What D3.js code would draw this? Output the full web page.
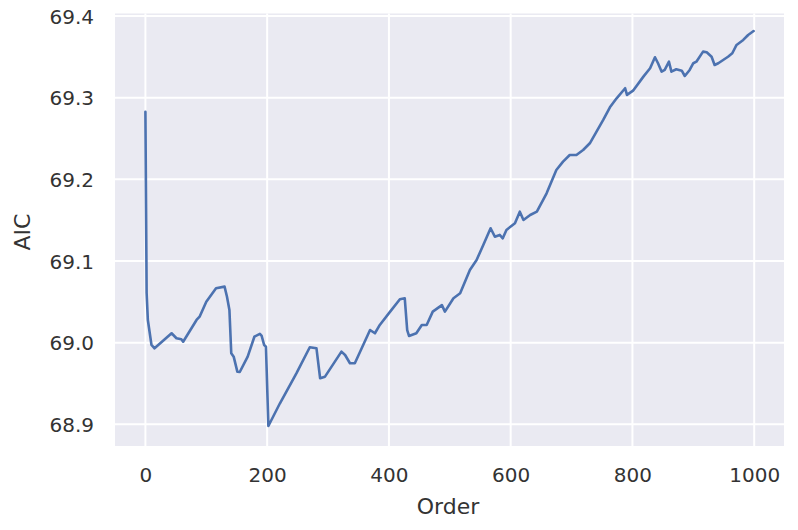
<!DOCTYPE html>
<html>
<head>
<meta charset="utf-8">
<script src="https://cdn.jsdelivr.net/npm/d3@7"></script>
<style>
  html, body { margin: 0; padding: 0; background: #ffffff; }
  svg { display: block; }
  text { font-family: "DejaVu Sans", sans-serif; fill: #333333; }
</style>
</head>
<body>
<svg id="chart" width="798" height="530"></svg>
<script>
const orders = [0, 2, 4, 10, 15, 43, 51, 59, 62, 84, 89, 100, 116, 130, 134, 138, 141, 145, 151, 155,
  168, 179, 188, 191, 195, 198, 202, 221, 248, 270, 281, 287, 295, 322, 328, 336, 344, 369, 377, 385,
  402, 418, 426, 430, 433, 445, 454, 462, 472, 487, 492, 506, 517, 533, 544, 555, 567, 574, 582, 587,
  593, 607, 615, 621, 632, 643, 659, 675, 686, 697, 708, 719, 730, 741, 752, 763, 774, 788, 791, 801,
  818, 829, 837, 842, 848, 853, 860, 864, 872, 881, 886, 894, 900, 905, 916, 922, 930, 935, 941, 949,
  957, 964, 971, 982, 990, 999];
const aic = [69.2828, 69.0608, 69.0278, 68.9972, 68.9931, 69.0115, 69.0054, 69.0042, 69.0012, 69.0278,
  69.0318, 69.0502, 69.0666, 69.0686, 69.0563, 69.0400, 68.9870, 68.9829, 68.9645, 68.9641,
  68.9829, 69.0073, 69.0107, 69.0082, 68.9972, 68.9951, 68.8980, 68.9258, 68.9625, 68.9944,
  68.9931, 68.9564, 68.9584, 68.9890, 68.9849, 68.9748, 68.9748, 69.0155, 69.0115, 69.0217,
  69.0380, 69.0531, 69.0544, 69.0155, 69.0082, 69.0115, 69.0217, 69.0217, 69.0380, 69.0460,
  69.0380, 69.0544, 69.0605, 69.0890, 69.1012, 69.1196, 69.1401, 69.1298, 69.1319, 69.1278,
  69.1380, 69.1462, 69.1604, 69.1502, 69.1563, 69.1604, 69.1829, 69.2114, 69.2216, 69.2298,
  69.2298, 69.2359, 69.2441, 69.2583, 69.2727, 69.2882, 69.2992, 69.3115, 69.3033, 69.3085,
  69.3257, 69.3359, 69.3494, 69.3421, 69.3318, 69.3339, 69.3440, 69.3318, 69.3347, 69.3330,
  69.3265, 69.3339, 69.3421, 69.3440, 69.3563, 69.3555, 69.3501, 69.3400, 69.3421, 69.3461,
  69.3501, 69.3543, 69.3645, 69.3706, 69.3767, 69.3815];
const xTicks = [0, 200, 400, 600, 800, 1000];
const yTicks = [68.9, 69.0, 69.1, 69.2, 69.3, 69.4];
const xLabel = "Order";
const yLabel = "AIC";

const svg = d3.select("#chart");
const pLeft = 115, pRight = 784, pTop = 13.5, pBottom = 446;

const x = d3.scaleLinear().domain([-49.95, 1048.95]).range([pLeft, pRight]);
const y = d3.scaleLinear().domain([68.8735, 69.403]).range([pBottom, pTop]);

svg.append("rect")
  .attr("x", pLeft).attr("y", pTop)
  .attr("width", pRight - pLeft).attr("height", pBottom - pTop)
  .attr("fill", "#eaeaf2");

// grid
svg.append("g").selectAll("line").data(xTicks).join("line")
  .attr("x1", d => x(d)).attr("x2", d => x(d))
  .attr("y1", pTop).attr("y2", pBottom)
  .attr("stroke", "#ffffff").attr("stroke-width", 2);
svg.append("g").selectAll("line").data(yTicks).join("line")
  .attr("x1", pLeft).attr("x2", pRight)
  .attr("y1", d => y(d)).attr("y2", d => y(d))
  .attr("stroke", "#ffffff").attr("stroke-width", 2);

// axes (tick labels only)
const xAxis = d3.axisBottom(x).tickValues(xTicks).tickSize(0).tickPadding(0).tickFormat(d3.format("d"));
const gx = svg.append("g").attr("transform", `translate(0,${pBottom + 22})`).call(xAxis);
gx.select(".domain").remove();
gx.selectAll("text").attr("font-size", 20).attr("dy", "0.71em")
  .style("font-family", "'DejaVu Sans', sans-serif").style("fill", "#333333");

const yAxis = d3.axisLeft(y).tickValues(yTicks).tickSize(0).tickPadding(0).tickFormat(d3.format(".1f"));
const gy = svg.append("g").attr("transform", `translate(${pLeft - 21},0)`).call(yAxis);
gy.select(".domain").remove();
gy.selectAll("text").attr("font-size", 20).attr("dy", "0.36em")
  .style("font-family", "'DejaVu Sans', sans-serif").style("fill", "#333333");

// labels
svg.append("text").attr("x", 448).attr("y", 514)
  .attr("text-anchor", "middle").attr("font-size", 22).text(xLabel);
svg.append("text")
  .attr("transform", `translate(30,232) rotate(-90)`)
  .attr("text-anchor", "middle").attr("font-size", 22).text(yLabel);

// line
const data = orders.map((o, i) => ({o, v: aic[i]}));
svg.append("path").datum(data)
  .attr("fill", "none")
  .attr("stroke", "#4c72b0")
  .attr("stroke-width", 2.6)
  .attr("stroke-linejoin", "round")
  .attr("stroke-linecap", "round")
  .attr("d", d3.line().x(d => x(d.o)).y(d => y(d.v)));
</script>
</body>
</html>
